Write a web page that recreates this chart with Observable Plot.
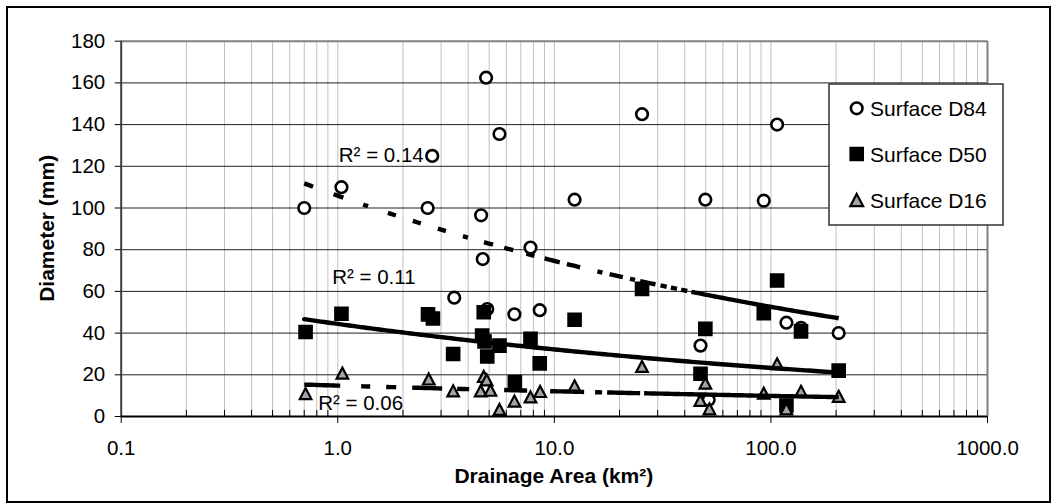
<!DOCTYPE html>
<html>
<head>
<meta charset="utf-8">
<script src="https://cdn.jsdelivr.net/npm/d3@7"></script>
<script src="https://cdn.jsdelivr.net/npm/@observablehq/plot@0.6"></script>
<style>
  html, body { margin: 0; padding: 0; background: #fff; }
  #chart svg { display: block; }
</style>
</head>
<body>
<div id="chart"></div>
<script>
// ---------------- data ----------------
const d84Area = [0.70, 1.04, 2.60, 2.73, 3.45, 4.59, 4.67, 4.84, 4.90, 5.58, 6.54, 7.76, 8.56, 12.4, 25.4, 47.3, 49.8, 51.6, 92.7, 106.8, 117.9, 137.7, 205.5];
const d84Diam = [100, 110, 100, 125, 57, 96.5, 75.5, 162.5, 51.5, 135.5, 49, 81, 51, 104, 145, 34, 104, 8, 103.5, 140, 45, 42.5, 40];

const d50Area = [0.71, 1.04, 2.61, 2.75, 3.41, 4.64, 4.72, 4.76, 4.90, 5.58, 6.57, 7.76, 8.56, 12.4, 25.4, 47.3, 49.8, 92.7, 106.8, 117.9, 137.7, 205.5];
const d50Diam = [40.5, 49.3, 49, 47, 30, 38.8, 50, 36, 28.8, 34, 16.5, 37.3, 25.5, 46.4, 61.2, 20.5, 42, 49.5, 65.2, 5.3, 40.8, 22];

const d16Area = [0.71, 1.05, 2.63, 3.41, 4.57, 4.72, 4.87, 5.07, 5.58, 6.54, 7.76, 8.60, 12.4, 25.4, 47.2, 49.8, 52.0, 92.7, 106.8, 117.9, 137.7, 205.5];
const d16Diam = [11, 20.8, 18, 12.3, 12.3, 19.2, 17.6, 12.6, 3.4, 7.4, 9.4, 12, 14.7, 24, 7.7, 16, 3.7, 11.2, 25.3, 3.7, 12.1, 9.7];

const seriesNames = ["Surface D84", "Surface D50", "Surface D16"];

// power trendlines y = a * x^b (coefficients)
const trendCoefA = [105.9, 44.4, 14.83];
const trendCoefB = [-0.152, -0.140, -0.088];
const trendRange = [0.70, 205.5];
const rSquared = ["0.14", "0.11", "0.06"];
const rLabelArea = [1.011, 0.942, 0.812];
const rLabelDiam = [125, 66.6, 6.3];

const xTickValues = [0.1, 1, 10, 100, 1000];
const xTickLabels = ["0.1", "1.0", "10.0", "100.0", "1000.0"];
const yTickValues = [0, 20, 40, 60, 80, 100, 120, 140, 160, 180];

const xTitle = "Drainage Area (km²)";
const yTitle = "Diameter (mm)";

// ---------------- layout / style ----------------
const W = 1052, H = 504;
const mLeft = 120.7, mRight = W - 987, mTop = 40.7, mBottom = H - 416;
const font = "'Liberation Sans', Arial, sans-serif";

const rows = (xs, ys) => xs.map((x, i) => ({area: x, diam: ys[i]}));
const d84 = rows(d84Area, d84Diam);
const d50 = rows(d50Area, d50Diam);
const d16 = rows(d16Area, d16Diam);

function trendRows(i, n = 160) {
  const l0 = Math.log10(trendRange[0]), l1 = Math.log10(trendRange[1]);
  return d3.range(n + 1).map(k => {
    const x = 10 ** (l0 + (l1 - l0) * k / n);
    return {area: x, diam: trendCoefA[i] * x ** trendCoefB[i]};
  });
}

// dash patterns imitating the spreadsheet rendering (dashed on the left, solid on the right)
const dashD84 = [9,21,10,20,5,20,8,17,8,17,8,17,5,16,9,11,9,13,8,10,
                 15,7,13,17,5,7,13,7,5,5,15,5,6,4,6,4,6,4,2000].map(v => (v * 1.045).toFixed(1)).join(",");
const dashD16 = [36,21,9,16,10,16,30,15,12,35,23,23,34,11,7,5,33,4,11,0,2000].join(",");

const minorX = [];
for (const d of [0.1, 1, 10, 100]) for (let k = 2; k <= 9; k++) minorX.push(+(d * k).toPrecision(3));
const majorInner = [1, 10, 100];

const triangleSymbol = {
  draw(ctx, size) {
    const r = Math.sqrt(size / Math.PI);
    const hw = r, hh = r * 0.95;
    ctx.moveTo(0, -hh); ctx.lineTo(hw, hh); ctx.lineTo(-hw, hh); ctx.closePath();
  }
};

const chart = Plot.plot({
  width: W, height: H,
  marginLeft: mLeft, marginRight: mRight, marginTop: mTop, marginBottom: mBottom,
  style: {fontFamily: font, fontSize: "20.5px", color: "#000", background: "#fff", overflow: "visible"},
  x: {type: "log", domain: [0.1, 1000]},
  y: {domain: [0, 180]},
  marks: [
    // grid
    Plot.ruleX([...minorX, ...majorInner], {stroke: "#c0c0c0", strokeWidth: 1}),
    Plot.ruleY(yTickValues.filter(v => v > 0 && v < 180), {stroke: "#222", strokeWidth: 1}),
    Plot.ruleY([180], {stroke: "#808080", strokeWidth: 2}),
    Plot.ruleX([1000], {stroke: "#808080", strokeWidth: 2}),
    // minor ticks inside the plot
    Plot.ruleX(minorX, {y1: 0, y2: 2.9, stroke: "#000", strokeWidth: 1}),
    // data
    Plot.dot(d84, {x: "area", y: "diam", r: 5.8, fill: "#fff", stroke: "#000", strokeWidth: 2.6}),
    Plot.dot(d50, {x: "area", y: "diam", symbol: "square", r: 7.4, fill: "#000", stroke: "#000", strokeWidth: 1.5}),
    Plot.dot(d16, {x: "area", y: "diam", symbol: triangleSymbol, r: 5.8, fill: "#a3a3a3", stroke: "#000", strokeWidth: 2.2}),
    // trendlines
    Plot.line(trendRows(0), {x: "area", y: "diam", stroke: "#000", strokeWidth: 4.4, strokeDasharray: dashD84, strokeLinecap: "butt"}),
    Plot.line(trendRows(1), {x: "area", y: "diam", stroke: "#000", strokeWidth: 4.4}),
    Plot.line(trendRows(2), {x: "area", y: "diam", stroke: "#000", strokeWidth: 4.4, strokeDasharray: dashD16, strokeLinecap: "butt"}),
    // R² labels
    Plot.text(rSquared.map((r, i) => ({area: rLabelArea[i], diam: rLabelDiam[i], label: `R² = ${r}`})),
      {x: "area", y: "diam", text: "label", textAnchor: "start", lineAnchor: "middle", fontSize: 20.5, fill: "#000"}),
    // axis lines
    Plot.ruleX([0.1], {stroke: "#404040", strokeWidth: 2}),
    Plot.ruleY([0], {stroke: "#000", strokeWidth: 2}),
    // axes
    Plot.axisX(xTickValues, {tickSize: 7, tickPadding: 17, label: null,
      tickFormat: d => xTickLabels[xTickValues.indexOf(d)], fontSize: 20.5}),
    Plot.axisY(yTickValues, {tickSize: 6, tickPadding: 10, label: null, fontSize: 20.5})
  ]
});

document.getElementById("chart").appendChild(chart);

// ---------------- titles, legend, outer frame ----------------
const svg = d3.select(chart);

svg.append("text")
  .attr("x", (mLeft + (W - mRight)) / 2).attr("y", 483)
  .attr("text-anchor", "middle")
  .style("font-family", font).style("font-size", "21px").style("font-weight", "bold")
  .text(xTitle);

svg.append("text")
  .attr("transform", `translate(53.5, ${(mTop + (H - mBottom)) / 2}) rotate(-90)`)
  .attr("text-anchor", "middle")
  .style("font-family", font).style("font-size", "21px").style("font-weight", "bold")
  .text(yTitle);

const lg = svg.append("g");
lg.append("rect").attr("x", 829).attr("y", 84).attr("width", 174).attr("height", 141)
  .style("fill", "#fff").style("stroke", "#333").style("stroke-width", 1.5);
const legendRowsY = [108.3, 154, 200];
const mx = 856.7;
lg.append("circle").attr("cx", mx).attr("cy", legendRowsY[0]).attr("r", 5.8)
  .style("fill", "#fff").style("stroke", "#000").style("stroke-width", 2.6);
lg.append("path").attr("transform", `translate(${mx},${legendRowsY[1]})`)
  .attr("d", d3.symbol(d3.symbolSquare, Math.PI * 7.4 * 7.4)())
  .style("fill", "#000").style("stroke", "#000").style("stroke-width", 1.5);
lg.append("path").attr("transform", `translate(${mx},${legendRowsY[2]})`)
  .attr("d", d3.symbol(triangleSymbol, Math.PI * 6.4 * 6.4)())
  .style("fill", "#a3a3a3").style("stroke", "#000").style("stroke-width", 2.2);
seriesNames.forEach((name, i) => {
  lg.append("text").attr("x", 870).attr("y", legendRowsY[i] + 7.5)
    .attr("text-anchor", "start")
    .style("font-family", font).style("font-size", "21px").style("fill", "#000")
    .text(name);
});

svg.append("rect").attr("x", 7).attr("y", 7).attr("width", 1043).attr("height", 495)
  .style("fill", "none").style("stroke", "#000").style("stroke-width", 2);
</script>
</body>
</html>
